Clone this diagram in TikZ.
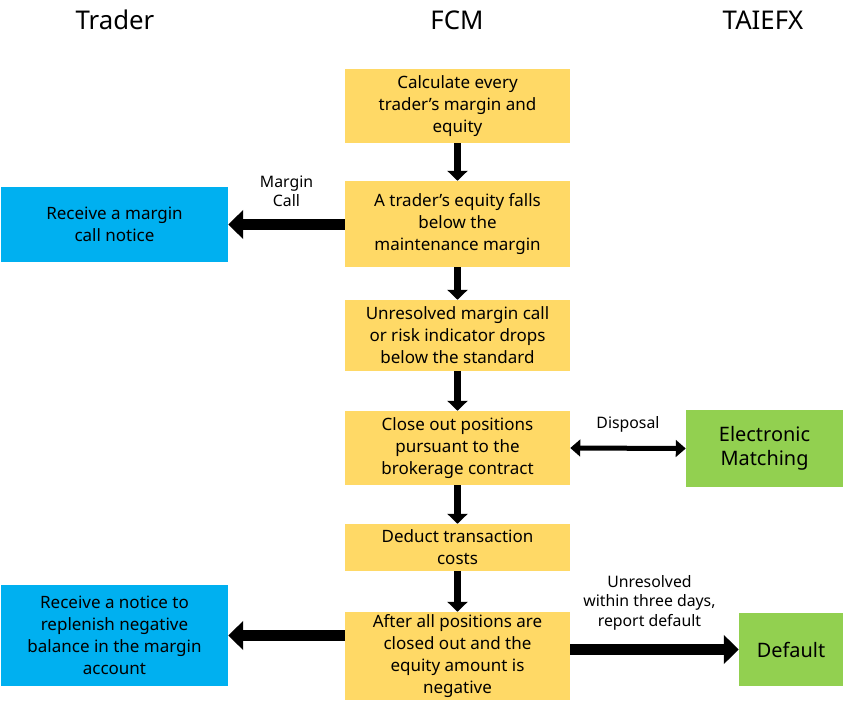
\documentclass[tikz,border=0pt]{standalone}
\usepackage{fontspec}
\setmainfont{Noto Sans}
\usetikzlibrary{arrows.meta,positioning}
\definecolor{fcmyellow}{HTML}{FFD966}
\definecolor{tradeblue}{HTML}{00B0F0}
\definecolor{exgreen}{HTML}{92D050}
\tikzset{
  box/.style={draw=none, inner sep=0pt, align=center, font=\fontsize{14.5}{18.8}\selectfont},
  fcm/.style={box, fill=fcmyellow, minimum width=6.75cm},
  trader/.style={box, fill=tradeblue, minimum width=6.81cm},
  exch/.style={box, fill=exgreen, font=\fontsize{17}{21}\selectfont},
  head/.style={font=\fontsize{22}{26}\selectfont},
  down/.style={line width=0.21cm, -{Triangle[length=0.3cm,width=0.6cm]}},
  side/.style={line width=0.33cm, -{Triangle[length=0.45cm,width=0.85cm]}},
  lbl/.style={align=center, font=\fontsize{13.5}{16.5}\selectfont}
}
\begin{document}
\begin{tikzpicture}[x=0.03cm,y=-0.03cm]
\useasboundingbox (0,0) rectangle (853,709);

%headers
\node[head] (htrader) at (115,20) {Trader};
\node[head] (hfcm) at (457,20) {FCM};
\node[head] (hex) at (763,20) {TAIEFX};

%FCM column
\node[fcm, minimum height=2.22cm] (calc) at (457.5,106) {Calculate every\\trader's margin and\\equity};
\node[fcm, minimum height=2.58cm] (falls) at (457.5,224) {A trader's equity falls\\below the\\maintenance margin};
\node[fcm, minimum height=2.13cm] (unres) at (457.5,335.5) {Unresolved margin call\\or risk indicator drops\\below the standard};
\node[fcm, minimum height=2.22cm] (close) at (457.5,448) {Close out positions\\pursuant to the\\brokerage contract};
\node[fcm, minimum height=1.41cm] (deduct) at (457.5,547.5) {Deduct transaction\\costs};
\node[fcm, minimum height=2.64cm] (neg) at (457.5,656) {After all positions are\\closed out and the\\equity amount is\\negative};

%trader column
\node[trader, minimum height=2.25cm] (notice) at (114.5,224.5) {Receive a margin\\call notice};
\node[trader, minimum height=3.03cm] (replenish) at (114.5,635.5) {Receive a notice to\\replenish negative\\balance in the margin\\account};

%TAIEFX column
\node[exch, minimum width=4.71cm, minimum height=2.31cm] (match) at (764.5,448.5) {Electronic\\Matching};
\node[exch, minimum width=3.12cm, minimum height=2.19cm] (default) at (791,649.5) {Default};

%down arrows
\draw[down] (calc) -- (falls);
\draw[down] (falls) -- (unres);
\draw[down] (unres) -- (close);
\draw[down] (close) -- (deduct);
\draw[down] (deduct) -- (neg);

%side arrows
\draw[side] (falls.west|-notice) -- (notice.east) node[lbl, midway, above=0.25cm] {Margin\\Call};
\draw[line width=0.15cm, {Triangle[length=0.3cm,width=0.5cm]}-{Triangle[length=0.3cm,width=0.5cm]}] (close.east) -- (match.west) node[lbl, midway, above=0.3cm] {Disposal};
\draw[side] (neg.west|-replenish) -- (replenish.east);
\draw[side] (neg.east|-default) -- (default.west) node[lbl, pos=0.47, above=0.3cm] {Unresolved\\within three days,\\report default};
\end{tikzpicture}
\end{document}
